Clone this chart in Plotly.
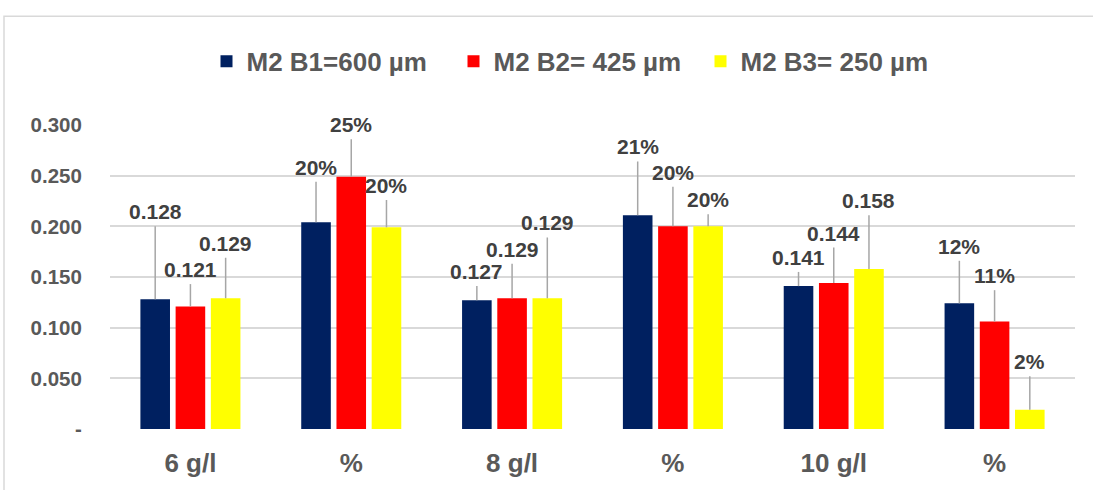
import plotly.graph_objects as go

# Categories along the x axis (repeated "%" labels, so positions are numeric)
categories = ["6 g/l", "%", "8 g/l", "%", "10 g/l", "%"]

series_names = ["M2 B1=600 µm", "M2 B2= 425 µm", "M2 B3= 250 µm"]
series_colors = ["#002060", "#FF0000", "#FFFF00"]

# Bar values per series
b1_values = [0.128, 0.204, 0.127, 0.211, 0.141, 0.124]
b2_values = [0.121, 0.249, 0.129, 0.200, 0.144, 0.106]
b3_values = [0.129, 0.199, 0.129, 0.200, 0.158, 0.019]

# Upper error amounts per series
b1_errors = [0.072, 0.040, 0.014, 0.053, 0.014, 0.042]
b2_errors = [0.022, 0.037, 0.034, 0.039, 0.035, 0.031]
b3_errors = [0.040, 0.027, 0.060, 0.012, 0.053, 0.033]

y_tick_values = [0, 0.05, 0.10, 0.15, 0.20, 0.25, 0.30]
y_tick_labels = ["-", "0.050", "0.100", "0.150", "0.200", "0.250", "0.300"]

values = [b1_values, b2_values, b3_values]
errors = [b1_errors, b2_errors, b3_errors]

BARGAP = 0.343
BARGROUPGAP = 0.16
FONT = "Arial, Liberation Sans, sans-serif"

x_pos = list(range(len(categories)))
n_series = len(values)
slot = (1 - BARGAP) / n_series


def label_text(cat, v):
    return f"{v:.0%}" if cat == "%" else f"{v:.3f}"


fig = go.Figure()
annotations = []
for s in range(n_series):
    fig.add_trace(go.Bar(
        x=x_pos,
        y=values[s],
        name=series_names[s],
        marker=dict(color=series_colors[s], line=dict(width=0)),
        error_y=dict(type="data", symmetric=False, array=errors[s],
                     arrayminus=[0] * len(categories),
                     color="#A6A6A6", thickness=1.5, width=0),
    ))
    offset = (s - (n_series - 1) / 2) * slot
    for i, cat in enumerate(categories):
        annotations.append(dict(
            x=x_pos[i] + offset, y=values[s][i] + errors[s][i],
            xref="x", yref="y", text=label_text(cat, values[s][i]),
            showarrow=False, yanchor="bottom", xanchor="center", yshift=1,
            font=dict(family=FONT, size=21, color="#404040", weight="bold"),
        ))

# Convert page pixels into paper coordinates for the outer frame
L, R, T, B, W, H = 110, 18, 125, 55, 1093, 490
pw, ph = W - L - R, H - T - B


def px_x(px):
    return (px - L) / pw


def px_y(py):
    return (H - B - py) / ph


fig.update_layout(
    width=W, height=H,
    margin=dict(l=L, r=R, t=T, b=B),
    paper_bgcolor="white", plot_bgcolor="white",
    barmode="group", bargap=BARGAP, bargroupgap=BARGROUPGAP,
    font=dict(family=FONT, color="#595959"),
    annotations=annotations,
    showlegend=True,
    legend=dict(
        orientation="h", x=px_x(577), xanchor="center",
        y=px_y(60), yanchor="middle",
        font=dict(family=FONT, size=26, color="#595959", weight="bold"),
        entrywidth=202, entrywidthmode="pixels",
        itemclick=False, itemdoubleclick=False,
    ),
    shapes=[dict(
        type="rect", xref="paper", yref="paper",
        x0=px_x(4), x1=px_x(1100), y0=px_y(500), y1=px_y(14),
        line=dict(color="#D9D9D9", width=1.5), fillcolor="rgba(0,0,0,0)",
        layer="below",
    )],
)

fig.update_xaxes(
    range=[-0.5, len(categories) - 0.5],
    tickmode="array", tickvals=x_pos, ticktext=categories,
    tickfont=dict(family=FONT, size=26, color="#595959", weight="bold"),
    ticks="outside", ticklen=11, tickcolor="rgba(0,0,0,0)",
    showgrid=False, zeroline=False, showline=False,
)
fig.update_yaxes(
    range=[0, 0.3],
    tickmode="array", tickvals=y_tick_values, ticktext=y_tick_labels,
    tickfont=dict(family=FONT, size=20.5, color="#595959", weight="bold"),
    ticks="outside", ticklen=23, tickcolor="rgba(0,0,0,0)",
    showgrid=True, gridcolor="#D9D9D9", gridwidth=2,
    zeroline=False, showline=False,
)

fig.write_html("out.html")
